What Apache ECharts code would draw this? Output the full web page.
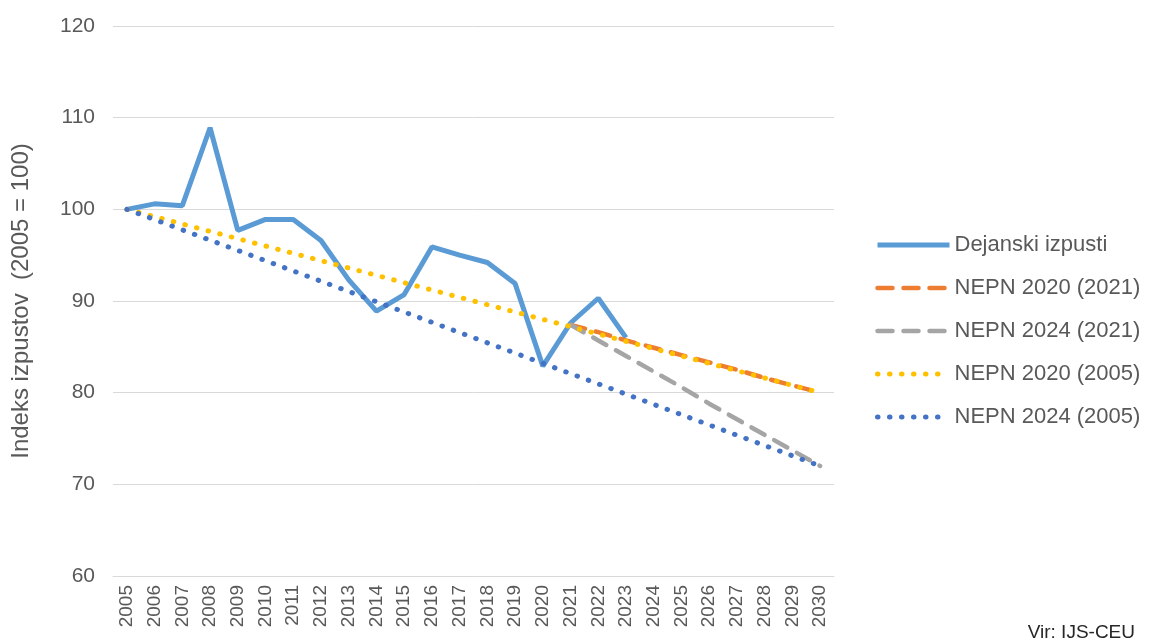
<!DOCTYPE html>
<html>
<head>
<meta charset="utf-8">
<script src="https://cdn.jsdelivr.net/npm/echarts@6/dist/echarts.min.js"></script>
<style>html,body{margin:0;padding:0;background:#fff}#c{width:1158px;height:644px}</style>
</head>
<body>
<div id="c"></div>
<script>
const years = ['2005','2006','2007','2008','2009','2010','2011','2012','2013','2014','2015','2016','2017','2018','2019','2020','2021','2022','2023','2024','2025','2026','2027','2028','2029','2030'];
const dejanski = [100, 100.6, 100.4, 108.9, 97.7, 98.9, 98.9, 96.6, 92.3, 88.9, 90.7, 95.9, 95.0, 94.2, 91.9, 82.9, 87.6, 90.3, 86.0, null, null, null, null, null, null, null];
const nepn2020_2021 = [null, null, null, null, null, null, null, null, null, null, null, null, null, null, null, null, 87.4, 86.6, 85.7, 84.9, 84.1, 83.3, 82.5, 81.6, 80.8, 80.0];
const nepn2024_2021 = [null, null, null, null, null, null, null, null, null, null, null, null, null, null, null, null, 87.4, 85.7, 84.0, 82.3, 80.6, 78.8, 77.1, 75.4, 73.7, 72.0];
const nepn2020_2005 = [100, 99.2, 98.4, 97.6, 96.8, 96.0, 95.2, 94.4, 93.6, 92.8, 92.0, 91.2, 90.4, 89.6, 88.8, 88.0, 87.2, 86.4, 85.6, 84.8, 84.0, 83.2, 82.4, 81.6, 80.8, 80.0];
const nepn2024_2005 = [100, 98.88, 97.76, 96.64, 95.52, 94.4, 93.28, 92.16, 91.04, 89.92, 88.8, 87.68, 86.56, 85.44, 84.32, 83.2, 82.08, 80.96, 79.84, 78.72, 77.6, 76.48, 75.36, 74.24, 73.12, 72.0];
const seriesNames = ['Dejanski izpusti', 'NEPN 2020 (2021)', 'NEPN 2024 (2021)', 'NEPN 2020 (2005)', 'NEPN 2024 (2005)'];

const FONT = '"Liberation Sans", Arial, sans-serif';
const TXT = '#595959';
const chart = echarts.init(document.getElementById('c'), null, {renderer: 'canvas'});
const dot = {width: 5, type: [0.5, 11.5], cap: 'round'};
const dash = {width: 4.5, type: [15, 11], cap: 'round'};
chart.setOption({
  animation: false,
  grid: {left: 113, right: 324, top: 26, bottom: 68},
  title: {
    text: 'Vir: IJS-CEU', right: 18, top: 618,
    textStyle: {fontFamily: FONT, fontSize: 19, fontWeight: 'normal', color: '#262626'}
  },
  legend: {
    orient: 'vertical', left: 870, top: 228,
    itemWidth: 72, itemHeight: 20, itemGap: 19,
    itemStyle: {opacity: 0},
    lineStyle: {width: 'inherit', type: 'inherit', cap: 'inherit'},
    textStyle: {fontFamily: FONT, fontSize: 22, color: TXT, lineHeight: 24},
    data: seriesNames
  },
  xAxis: {
    type: 'category', data: years, boundaryGap: true,
    axisLine: {lineStyle: {color: '#d9d9d9', width: 1}},
    axisTick: {show: false},
    axisLabel: {rotate: 90, interval: 0, margin: 9, fontFamily: FONT, fontSize: 19, color: TXT}
  },
  yAxis: {
    type: 'value', min: 60, max: 120, interval: 10,
    name: 'Indeks izpustov  (2005 = 100)', nameLocation: 'middle', nameGap: 80, nameRotate: 90,
    nameTextStyle: {fontFamily: FONT, fontSize: 24, color: TXT},
    axisLine: {show: false}, axisTick: {show: false},
    axisLabel: {margin: 18, fontFamily: FONT, fontSize: 21, color: TXT},
    splitLine: {lineStyle: {color: '#d9d9d9', width: 1}}
  },
  series: [
    {name: seriesNames[0], type: 'line', data: dejanski, symbol: 'none', lineStyle: {width: 5, color: '#5B9BD5'}, itemStyle: {color: '#5B9BD5'}},
    {name: seriesNames[1], type: 'line', data: nepn2020_2021, symbol: 'none', lineStyle: Object.assign({color: '#ED7D31'}, dash), itemStyle: {color: '#ED7D31'}},
    {name: seriesNames[2], type: 'line', data: nepn2024_2021, symbol: 'none', lineStyle: Object.assign({color: '#A5A5A5'}, dash), itemStyle: {color: '#A5A5A5'}},
    {name: seriesNames[3], type: 'line', data: nepn2020_2005, symbol: 'none', lineStyle: Object.assign({color: '#FFC000'}, dot), itemStyle: {color: '#FFC000'}},
    {name: seriesNames[4], type: 'line', data: nepn2024_2005, symbol: 'none', lineStyle: Object.assign({color: '#4472C4'}, dot), itemStyle: {color: '#4472C4'}}
  ]
});
</script>
</body>
</html>
